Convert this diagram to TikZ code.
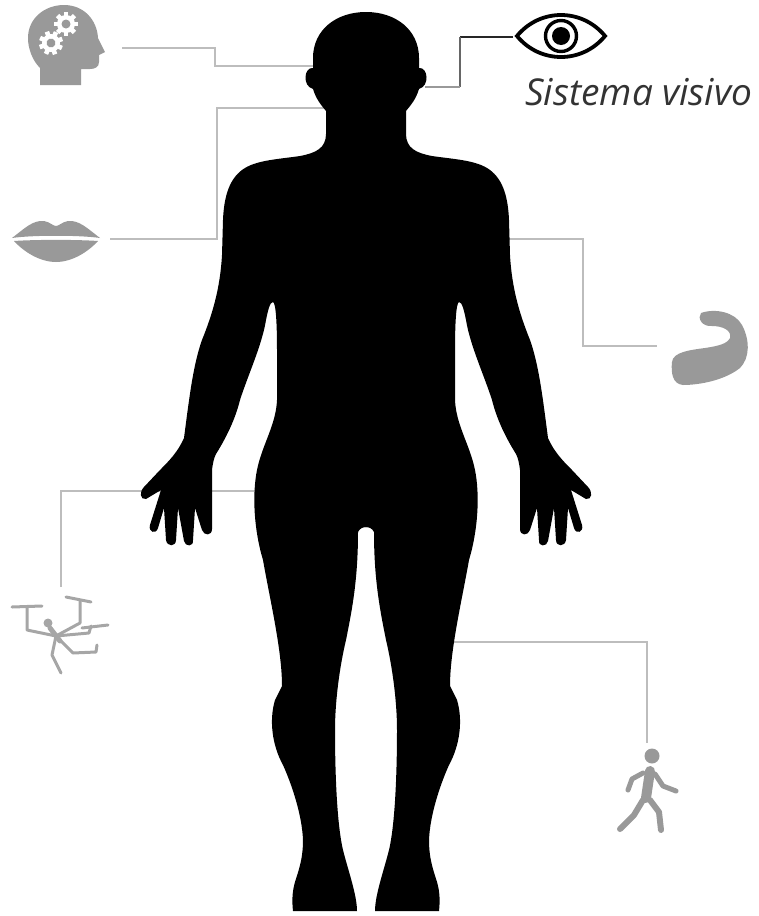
\documentclass[tikz,border=0pt]{standalone}
\usepackage{fontspec}
\newfontfamily\labelfont{Open Sans}
\definecolor{linkgray}{HTML}{BDBDBD}
\definecolor{icongray}{HTML}{999999}
\definecolor{dronegray}{HTML}{A6A6A6}
\definecolor{textgray}{HTML}{333333}
% outline of the left half of the standing figure; the right half is its mirror image
\newcommand\figurehalfpath{
  (367.5,12)
  -- (366,12) .. controls (336,12) and (313,30) .. (313,58)
  -- (313,68) .. controls (304,67) and (302,86) .. (313,89)
  .. controls (316,99) and (321,105) .. (326,111)
  -- (326,134) .. controls (326,148) and (316,153) .. (300,156)
  .. controls (280,159) and (258,160) .. (245,168)
  .. controls (230,177) and (224,195) .. (223,220)
  -- (222,255) .. controls (220,290) and (212,315) .. (202,340)
  .. controls (193,365) and (189,400) .. (184,438)
  .. controls (178,452) and (168,462) .. (160,470)
  -- (144,487) .. controls (139,492) and (140,500) .. (146,499)
  -- (161,490)
  -- (150,525) .. controls (148,532) and (156,535) .. (158,528)
  -- (164,508)
  -- (166,540) .. controls (167,547) and (176,547) .. (176,540)
  -- (178,508)
  -- (184,541) .. controls (185,547) and (194,547) .. (193,540)
  -- (195,508)
  -- (202,530) .. controls (204,536) and (212,536) .. (212,529)
  -- (212,470) .. controls (213,462) and (214,458) .. (216,454)
  .. controls (226,438) and (235,420) .. (240,400)
  .. controls (248,375) and (262,345) .. (266,320)
  .. controls (268,310) and (270,302) .. (273,302)
  .. controls (276,303) and (277,325) .. (277,350)
  -- (277,400) .. controls (276,425) and (262,445) .. (257,470)
  .. controls (252,495) and (254,530) .. (263,560)
  .. controls (270,600) and (282,650) .. (282,686)
  -- (275,700) .. controls (269,720) and (272,745) .. (283,765)
  .. controls (292,785) and (302,815) .. (303,840)
  .. controls (303,860) and (298,872) .. (295,882)
  .. controls (292,892) and (292,902) .. (293,911)
  -- (357,911) .. controls (357,895) and (348,870) .. (343,850)
  .. controls (336,820) and (335,760) .. (335,730)
  .. controls (335,700) and (340,665) .. (346,640)
  .. controls (352,610) and (358,580) .. (358,532)
  .. controls (360,528) and (363,527) .. (367.5,527)
  -- cycle}
\tikzset{
  link/.style={draw=linkgray, line width=2.2pt},
  stroke/.style={draw=icongray, line cap=round, line join=round},
  gear/.pic={
    \fill[white] (0,0) circle (9);
    \foreach \a in {0,45,...,315}
      \fill[white, rotate=\a] (-2.3,-12) rectangle (2.3,-7);
    \fill[icongray] (0,0) circle (4.5);
  }
}
\begin{document}
\begin{tikzpicture}[x=1pt,y=-1pt]
\useasboundingbox (0,0) rectangle (759,916);

% attachment points on the icons
\coordinate (brain) at (122,48);
\coordinate (lips) at (110,239);
\coordinate (eye) at (513,37);
\coordinate (muscle) at (657,346);
\coordinate (drone) at (61,587);
\coordinate (walker) at (647,743);
% attachment points on the figure
\coordinate (headL) at (316,66);
\coordinate (neckL) at (326,108);
\coordinate (earR) at (425,87);
\coordinate (shoulderR) at (505,239);
\coordinate (hipL) at (262,491);
\coordinate (legR) at (450,642);

% connectors, drawn first so the figure covers their ends
\draw[link] (brain) -- ++(93,0) |- (headL);
\draw[link] (lips) -- ++(107,0) |- (neckL);
\draw[link] (shoulderR) -- ++(78,0) |- (muscle);
\draw[link] (drone) |- (hipL);
\draw[link] (legR) -| (walker);
\draw[line width=2.2pt, black!85] (eye) -- ++(-53,0) coordinate (eyebend);
\draw[line width=2.2pt, black!60] (eyebend) -- (eyebend |- earR) coordinate (eyelow);
\draw[line width=2.2pt, black!40] (eyelow) -- (earR);

% the figure
\fill[black] \figurehalfpath;
\begin{scope}[cm={-1,0,0,1,(732pt,0pt)}]
  \fill[black] \figurehalfpath;
\end{scope}

% head with gears
\fill[icongray] (40,85) -- (40,68) .. controls (32,60) and (28,48) .. (28,38)
  .. controls (28,18) and (45,5) .. (64,5) .. controls (84,5) and (97,20) .. (98,38)
  -- (105,52) -- (99,55) -- (99,62) .. controls (99,67) and (95,69) .. (90,69)
  -- (81,69) -- (81,85) -- cycle;
\pic at (66,24) {gear};
\pic[rotate=20] at (51,43) {gear};

% lips
\fill[icongray] (12,238) .. controls (25,228) and (33,220) .. (44,221)
  .. controls (50,222) and (53,226) .. (56,226) .. controls (59,226) and (62,222) .. (68,221)
  .. controls (79,220) and (87,228) .. (100,238) .. controls (80,235) and (32,235) .. (12,238) -- cycle;
\fill[icongray] (14,241) .. controls (35,239.5) and (77,239.5) .. (98,241)
  .. controls (88,252) and (72,262) .. (56,262) .. controls (40,262) and (24,252) .. (14,241) -- cycle;

% eye
\draw[black, line width=3.8pt] (517,36) .. controls (540,8) and (582,8) .. (605,36)
  .. controls (582,64) and (540,64) .. (517,36) -- cycle;
\draw[black, line width=3.4pt] (561,36) circle (15.5);
\fill[black] (561,36) circle (9);
\node[anchor=base west, inner sep=0pt, text=textgray,
      font=\labelfont\itshape\fontsize{37}{37}\selectfont] (eyelabel) at (525,105) {Sistema visivo};

% flexed arm
\fill[icongray] (701,313) .. controls (715,308) and (735,312) .. (742,325)
  .. controls (750,340) and (750,358) .. (740,368)
  .. controls (725,380) and (700,385) .. (683,385)
  .. controls (672,384) and (671,372) .. (672,362)
  .. controls (673,352) and (690,350) .. (705,348)
  .. controls (718,346) and (727,344) .. (730,338)
  .. controls (732,330) and (722,326) .. (712,326)
  .. controls (702,327) and (697,318) .. (701,313) -- cycle;

% drone
\begin{scope}[draw=dronegray, line width=3pt, line cap=round, line join=round]
  \fill[dronegray] (48,623) circle (4.5);
  \draw (56,636) -- (27,630) -- (27,608);
  \draw (12,607) -- (42,606);
  \draw (56,636) -- (80,623) -- (80,601);
  \draw (66,597) -- (91,602);
  \draw (56,636) -- (89,633) -- (91,626);
  \draw (82,628) -- (108,625);
  \draw (56,636) -- (73,653) -- (96,652) -- (97,645);
  \draw (56,636) -- (52,655) -- (61,673);
  \draw[line width=5pt] (50,628) -- (60,641);
\end{scope}

% walking person
\fill[icongray] (652,756) circle (7.5);
\draw[stroke, line width=10pt] (650,771) -- (646,798);
\draw[stroke, line width=5pt] (655,774) -- (663,786) -- (676,791);
\draw[stroke, line width=5pt] (643,773) -- (632,779) -- (628,790);
\draw[stroke, line width=6pt] (643,800) -- (634,815) -- (620,829);
\draw[stroke, line width=6pt] (650,800) -- (659,812) -- (661,830);
\end{tikzpicture}
\end{document}
